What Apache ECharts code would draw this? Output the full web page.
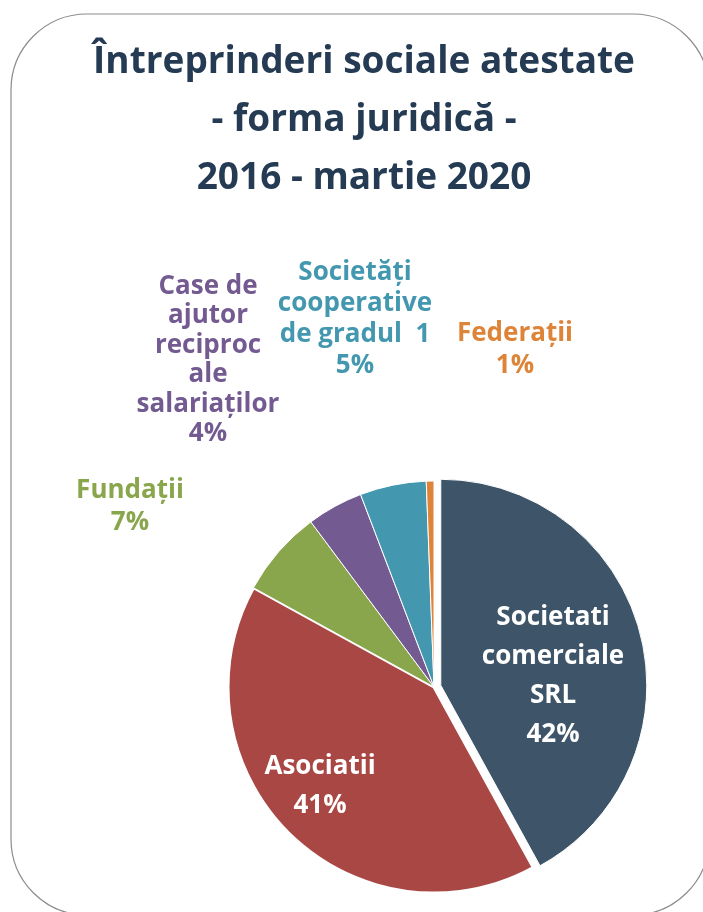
<!DOCTYPE html>
<html>
<head>
<meta charset="utf-8">
<script src="https://cdn.jsdelivr.net/npm/echarts@6/dist/echarts.min.js"></script>
<style>
  html, body { margin: 0; padding: 0; background: #fff; }
  #chart { width: 703px; height: 912px; }
</style>
</head>
<body>
<div id="chart"></div>
<script>
  // categorii si valori (procente)
  var categories = [
    'Societati\ncomerciale\nSRL',
    'Asociatii',
    'Fundații',
    'Case de\najutor\nreciproc\nale\nsalariaților',
    'Societăți\ncooperative\nde gradul  1',
    'Federații'
  ];
  var values = [42.0, 41.0, 6.8, 4.4, 5.2, 0.6];
  var colors = ['#3e5569', '#a94744', '#8aa64d', '#735a91', '#4398b0', '#dd8438'];

  // unde stau etichetele (centru text) si spatierea randurilor
  var labelPos = [[553, 676], [320, 786], [130, 507], [208, 360], [355, 319], [515, 350]];
  var labelLineH = [39, 39, 32, 29.5, 31, 32];

  var chart = echarts.init(document.getElementById('chart'));

  var font = '"Open Sans", Lato, sans-serif';
  var center = [434, 687];
  var explode = 7;   // cat de mult e scoasa felia SRL

  // directia feliei SRL (mijlocul ei, masurat de sus, in sensul acelor)
  var total = values.reduce(function (a, b) { return a + b; }, 0);
  var mid = values[0] / total * Math.PI;
  var center2 = [center[0] + explode * Math.sin(mid), center[1] - explode * Math.cos(mid)];

  function makeData(showIdx) {
    return categories.map(function (name, i) {
      var inside = i < 2;
      var visible = showIdx(i);
      return {
        name: name,
        value: values[i],
        itemStyle: {
          color: colors[i],
          opacity: visible ? 1 : 0,
          borderColor: '#fff',
          borderWidth: i === 1 ? 3 : 1
        },
        label: {
          show: visible,
          position: inside ? 'inside' : 'outside',
          color: inside ? '#fff' : colors[i],
          fontSize: 26,
          lineHeight: labelLineH[i]
        }
      };
    });
  }

  var pieBase = {
    type: 'pie',
    radius: 206,
    startAngle: 90,
    clockwise: true,
    silent: true,
    emphasis: { disabled: true },
    label: {
      fontFamily: font,
      fontWeight: 'bold',
      align: 'center',
      formatter: function (p) {
        return p.name + '\n' + Math.round(p.percent) + '%';
      }
    },
    labelLine: { show: false },
    labelLayout: function (p) {
      var pos = labelPos[p.dataIndex];
      return {
        x: pos[0],
        y: pos[1],
        align: 'center',
        verticalAlign: 'middle'
      };
    }
  };

  chart.setOption({
    backgroundColor: '#fff',
    animation: false,
    graphic: [{
      type: 'rect',
      shape: { x: 11, y: 14, width: 698, height: 901, r: 76 },
      style: { fill: 'none', stroke: '#8c8c8c', lineWidth: 1.2 },
      z: -1
    }],
    title: {
      text: 'Întreprinderi sociale atestate\n- forma juridică -\n2016 - martie 2020',
      left: 359,
      top: 28,
      textAlign: 'center',
      textStyle: {
        fontFamily: font,
        fontWeight: 'bold',
        fontSize: 37,
        lineHeight: 58,
        color: '#243b53'
      }
    },
    series: [
      Object.assign({}, pieBase, {
        center: center,
        data: makeData(function (i) { return i !== 0; })
      }),
      Object.assign({}, pieBase, {
        center: center2,
        data: makeData(function (i) { return i === 0; })
      })
    ]
  });
</script>
</body>
</html>
